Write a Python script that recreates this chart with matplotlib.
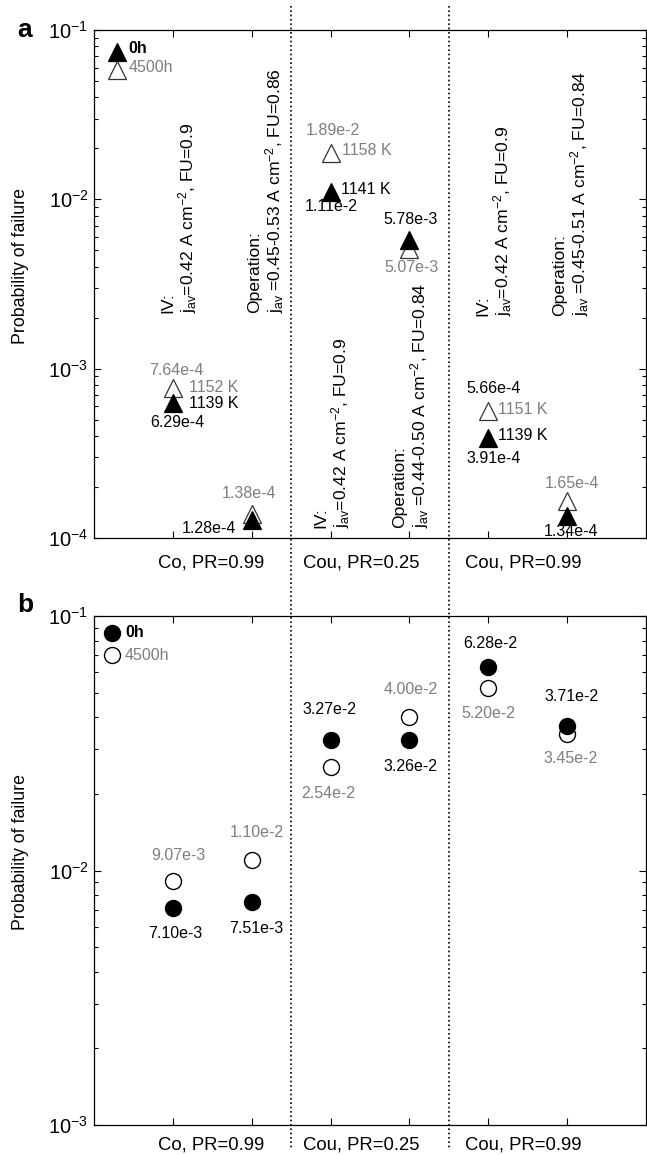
import matplotlib
matplotlib.use("Agg")
import matplotlib.pyplot as plt
from matplotlib.lines import Line2D
import matplotlib.transforms as mtransforms
from matplotlib.ticker import LogLocator, NullFormatter

plt.rcParams['font.family'] = ['Liberation Sans', 'DejaVu Sans']
plt.rcParams['mathtext.fontset'] = 'custom'
plt.rcParams['mathtext.rm'] = 'Liberation Sans'
plt.rcParams['mathtext.it'] = 'Liberation Sans:italic'
plt.rcParams['mathtext.bf'] = 'Liberation Sans:bold'
plt.rcParams['mathtext.default'] = 'regular'

# ---- data ----
columns = [1, 2, 3, 4, 5, 6]
group_labels = ['Co, PR=0.99', 'Cou, PR=0.25', 'Cou, PR=0.99']
series_names = ['0h', '4500h']

# panel a: stack probability of failure (triangles)
pof_a_0h = [6.29e-4, 1.28e-4, 1.11e-2, 5.78e-3, 3.91e-4, 1.34e-4]
pof_a_4500h = [7.64e-4, 1.38e-4, 1.89e-2, 5.07e-3, 5.66e-4, 1.65e-4]
temp_a_0h = ['1139 K', None, '1141 K', None, '1139 K', None]
temp_a_4500h = ['1152 K', None, '1158 K', None, '1151 K', None]

# panel b: probability of failure (circles)
pof_b_0h = [7.10e-3, 7.51e-3, 3.27e-2, 3.26e-2, 6.28e-2, 3.71e-2]
pof_b_4500h = [9.07e-3, 1.10e-2, 2.54e-2, 4.00e-2, 5.20e-2, 3.45e-2]

conditions = [
    'IV:\nj$_{av}$=0.42 A cm$^{-2}$, FU=0.9',
    'Operation:\nj$_{av}$ =0.45-0.53 A cm$^{-2}$, FU=0.86',
    'IV:\nj$_{av}$=0.42 A cm$^{-2}$, FU=0.9',
    'Operation:\nj$_{av}$ =0.44-0.50 A cm$^{-2}$, FU=0.84',
    'IV:\nj$_{av}$=0.42 A cm$^{-2}$, FU=0.9',
    'Operation:\nj$_{av}$ =0.45-0.51 A cm$^{-2}$, FU=0.84',
]

GRAY = '#7f7f7f'
VAL_FS = 11.5
TRI_MS = 12.5
CIR_MS = 11.5


def sci(v):
    m, e = f'{v:.2e}'.split('e')
    return f'{m}e{int(e)}'


fig = plt.figure(figsize=(6.47, 11.55), dpi=100)
W, H = 647.0, 1155.0


def make_axes(top_px, bottom_px):
    return fig.add_axes([94 / W, 1 - bottom_px / H, 552 / W, (bottom_px - top_px) / H])


ax_a = make_axes(30, 538)
ax_b = make_axes(616, 1125)


def style(ax, ymin, ymax):
    ax.set_yscale('log')
    ax.set_ylim(ymin, ymax)
    ax.set_xlim(0, 7)
    ax.set_xticks(columns)
    ax.set_xticklabels([])
    ax.yaxis.set_major_locator(LogLocator(base=10, numticks=10))
    ax.yaxis.set_minor_locator(LogLocator(base=10, subs=range(2, 10), numticks=50))
    ax.yaxis.set_minor_formatter(NullFormatter())
    ax.tick_params(which='both', direction='in', top=True, right=True,
                   width=0.8, color='black')
    ax.tick_params(which='major', length=5, labelsize=14.5, pad=4)
    ax.tick_params(which='minor', length=3)
    for s in ax.spines.values():
        s.set_linewidth(0.9)
    ax.set_ylabel('Probability of failure', fontsize=12.8)
    ax.yaxis.set_label_coords(-0.118, 0.536)


style(ax_a, 1e-4, 1e-1)
style(ax_b, 1e-3, 1e-1)


def annotate(ax, x, y, text, dx, dy, color, ha='center'):
    ax.annotate(text, (x, y), xytext=(dx, dy), textcoords='offset pixels',
                ha=ha, va='center', fontsize=VAL_FS, color=color)


# ---- panel a ----
for x, v in zip(columns, pof_a_4500h):
    ax_a.plot(x, v, marker='^', ms=TRI_MS, mfc='white', mec='#333333', mew=0.9, ls='none')
for x, v in zip(columns, pof_a_0h):
    ax_a.plot(x, v, marker='^', ms=TRI_MS, mfc='black', mec='black', mew=0.9, ls='none')

off_a_0h = [(5, -20), (-43, -9), (1, -15), (1, 20), (5, -21), (4, -15)]
off_a_4500h = [(4, 18), (-3, 21), (2, 22), (2, -18), (5, 22), (5, 18)]
col_a_4500h = [GRAY, GRAY, GRAY, GRAY, 'black', GRAY]
off_t_0h = [(16, -1), None, (10, 2), None, (10, 2), None]
off_t_4500h = [(16, 1), None, (11, 2), None, (10, 1), None]

for i, x in enumerate(columns):
    annotate(ax_a, x, pof_a_0h[i], sci(pof_a_0h[i]), *off_a_0h[i], 'black')
    annotate(ax_a, x, pof_a_4500h[i], sci(pof_a_4500h[i]), *off_a_4500h[i], col_a_4500h[i])
    if temp_a_0h[i]:
        annotate(ax_a, x, pof_a_0h[i], temp_a_0h[i], *off_t_0h[i], 'black', ha='left')
    if temp_a_4500h[i]:
        annotate(ax_a, x, pof_a_4500h[i], temp_a_4500h[i], *off_t_4500h[i], GRAY, ha='left')

# operating-condition notes, rotated
note_x = [1.09, 2.19, 3.03, 4.03, 5.08, 6.06]
note_y = [2.13e-3, 2.13e-3, 1.15e-4, 1.15e-4, 2.05e-3, 2.05e-3]
for x, y, t in zip(note_x, note_y, conditions):
    ax_a.text(x, y, t, rotation=90, ha='center', va='bottom', multialignment='left',
              fontsize=12.6, linespacing=1.05)

# legend a
ax_a.plot(0.042, 0.957, marker='^', ms=TRI_MS, mfc='black', mec='black', mew=0.9,
          transform=ax_a.transAxes, ls='none')
ax_a.plot(0.042, 0.921, marker='^', ms=TRI_MS, mfc='white', mec='#333333', mew=0.9,
          transform=ax_a.transAxes, ls='none')
ax_a.text(0.062, 0.964, series_names[0], transform=ax_a.transAxes, fontsize=VAL_FS,
          fontweight='bold', va='center')
ax_a.text(0.062, 0.927, series_names[1], transform=ax_a.transAxes, fontsize=VAL_FS,
          color=GRAY, va='center')

# ---- panel b ----
for x, v in zip(columns, pof_b_4500h):
    ax_b.plot(x, v, marker='o', ms=CIR_MS, mfc='white', mec='black', mew=1.0, ls='none')
for x, v in zip(columns, pof_b_0h):
    ax_b.plot(x, v, marker='o', ms=CIR_MS, mfc='black', mec='black', mew=1.0, ls='none')

off_b_0h = [(2, -25), (5, -26), (-1, 30), (1, -27), (2, 24), (4, 29)]
off_b_4500h = [(6, 26), (5, 27), (-2, -26), (1, 28), (0, -25), (3, -25)]
for i, x in enumerate(columns):
    annotate(ax_b, x, pof_b_0h[i], sci(pof_b_0h[i]), *off_b_0h[i], 'black')
    annotate(ax_b, x, pof_b_4500h[i], sci(pof_b_4500h[i]), *off_b_4500h[i], GRAY)

# legend b
ax_b.plot(0.033, 0.967, marker='o', ms=CIR_MS, mfc='black', mec='black',
          transform=ax_b.transAxes, ls='none')
ax_b.plot(0.033, 0.923, marker='o', ms=CIR_MS, mfc='white', mec='black',
          transform=ax_b.transAxes, ls='none')
ax_b.text(0.056, 0.967, series_names[0], transform=ax_b.transAxes, fontsize=VAL_FS,
          fontweight='bold', va='center')
ax_b.text(0.056, 0.923, series_names[1], transform=ax_b.transAxes, fontsize=VAL_FS,
          color=GRAY, va='center')

# group labels under each panel
group_x = [1.48, 3.39, 5.44]
for ax, yoff in ((ax_a, -0.049), (ax_b, -0.039)):
    trans = mtransforms.blended_transform_factory(ax.transData, ax.transAxes)
    for gx, g in zip(group_x, group_labels):
        ax.text(gx, yoff, g, transform=trans, ha='center', va='center', fontsize=13.3,
                clip_on=False)

# dotted group dividers spanning the whole figure
div_trans = mtransforms.blended_transform_factory(ax_a.transData, fig.transFigure)
for xd in (2.5, 4.5):
    fig.add_artist(Line2D([xd, xd], [1 - 6 / H, 1 - 1150 / H], transform=div_trans,
                          color='black', lw=1.2, ls=(0, (1, 1.6))))

# panel letters
fig.text(17 / W, 1 - 37 / H, 'a', fontsize=19, fontweight='bold', va='baseline')
fig.text(17 / W, 1 - 612 / H, 'b', fontsize=19, fontweight='bold', va='baseline')

fig.savefig('out.png', dpi=100)
